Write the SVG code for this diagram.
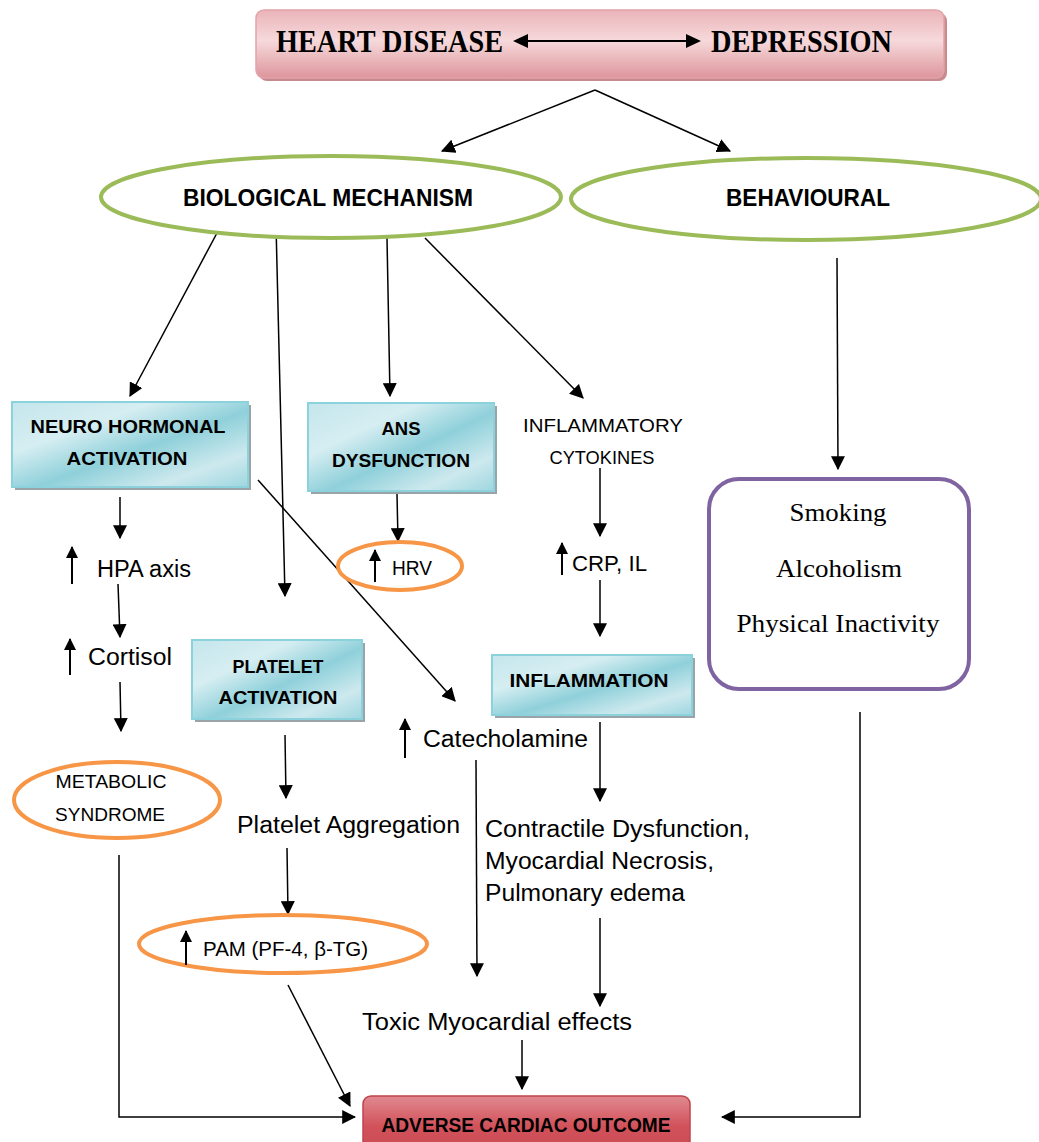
<svg xmlns="http://www.w3.org/2000/svg" width="1039" height="1142" viewBox="0 0 1039 1142">
<defs>
<marker id="ah" viewBox="0 0 12 12" refX="11" refY="6" markerWidth="14" markerHeight="14" markerUnits="userSpaceOnUse" orient="auto">
<path d="M0,0 L12,6 L0,12 z" fill="#000"/>
</marker>
<marker id="ahs" viewBox="0 0 12 12" refX="11" refY="6" markerWidth="12" markerHeight="12" markerUnits="userSpaceOnUse" orient="auto">
<path d="M0,0 L12,6 L0,12 z" fill="#000"/>
</marker>
<linearGradient id="teal" x1="0" y1="0" x2="1" y2="1">
<stop offset="0" stop-color="#c4e6ec"/>
<stop offset="0.3" stop-color="#d6eef2"/>
<stop offset="0.55" stop-color="#8fd0da"/>
<stop offset="0.8" stop-color="#cde9ee"/>
<stop offset="1" stop-color="#9ed6df"/>
</linearGradient>
<linearGradient id="pink" x1="0" y1="0" x2="0" y2="1">
<stop offset="0" stop-color="#eab4b9"/>
<stop offset="0.45" stop-color="#f6d9db"/>
<stop offset="1" stop-color="#dd959b"/>
</linearGradient>
<linearGradient id="red" x1="0" y1="0" x2="0" y2="1">
<stop offset="0" stop-color="#e08a90"/>
<stop offset="0.5" stop-color="#d2525b"/>
<stop offset="1" stop-color="#c94a53"/>
</linearGradient>
<style>
.ln{stroke:#000;stroke-width:1.5;fill:none}
.arr{marker-end:url(#ah)}
.up{stroke:#000;stroke-width:2;fill:none;marker-end:url(#ahs)}
.sans{font-family:"Liberation Sans","DejaVu Sans",sans-serif;fill:#000}
.b{font-weight:bold}
.ser{font-family:"Liberation Serif","DejaVu Serif",serif;fill:#000}
.teal{fill:url(#teal);stroke:#8cd2dc;stroke-width:2}
.shadow{fill:#9aa4a8}
.green{fill:#fff;stroke:#9bbb59;stroke-width:4}
.orange{fill:#fff;stroke:#f79646;stroke-width:4}
</style>
</defs>
<rect width="1039" height="1142" fill="#fff"/>

<g id="connectors">
<line class="ln arr" x1="595" y1="90" x2="442" y2="151"/>
<line class="ln arr" x1="595" y1="90" x2="730" y2="151"/>
<line class="ln arr" x1="217" y1="233" x2="130" y2="396"/>
<line class="ln arr" x1="276" y1="225" x2="285" y2="596"/>
<line class="ln arr" x1="387" y1="238" x2="390" y2="396"/>
<line class="ln arr" x1="425" y1="238" x2="583" y2="398"/>
<line class="ln arr" x1="837" y1="258" x2="838" y2="469"/>
<line class="ln arr" x1="120" y1="497" x2="120" y2="538"/>
<line class="ln arr" x1="118" y1="584" x2="120" y2="637"/>
<line class="ln arr" x1="120" y1="682" x2="121" y2="731"/>
<polyline class="ln arr" points="119,855 119,1117 355,1117"/>
<line class="ln arr" x1="258" y1="480" x2="455" y2="701"/>
<line class="ln arr" x1="397" y1="494" x2="398" y2="541"/>
<line class="ln arr" x1="600" y1="468" x2="600" y2="536"/>
<line class="ln arr" x1="600" y1="580" x2="600" y2="636"/>
<line class="ln arr" x1="600" y1="722" x2="600" y2="801"/>
<line class="ln arr" x1="285" y1="735" x2="286" y2="798"/>
<line class="ln arr" x1="287" y1="848" x2="288" y2="914"/>
<line class="ln arr" x1="288" y1="985" x2="350" y2="1106"/>
<line class="ln arr" x1="476" y1="760" x2="477" y2="976"/>
<line class="ln arr" x1="600" y1="918" x2="600" y2="1006"/>
<line class="ln arr" x1="522" y1="1040" x2="522" y2="1089"/>
<polyline class="ln arr" points="860,712 860,1117 722,1117"/>
</g>

<g id="top">
<rect x="259" y="13" width="688" height="68" rx="8" fill="#c98a8f"/>
<rect x="256" y="10" width="688" height="68" rx="8" fill="url(#pink)" stroke="#e3a3a8" stroke-width="1.5"/>
<text class="ser b" x="276" y="52" font-size="31" textLength="227" lengthAdjust="spacingAndGlyphs">HEART DISEASE</text>
<text class="ser b" x="711" y="52" font-size="31" textLength="181" lengthAdjust="spacingAndGlyphs">DEPRESSION</text>
<line x1="526" y1="41" x2="688" y2="41" stroke="#000" stroke-width="2"/>
<path d="M513,41 L528,34 L528,48 z M701,41 L686,34 L686,48 z" fill="#000"/>
</g>

<g id="biological">
<ellipse class="green" cx="331" cy="197" rx="230" ry="41"/>
<text class="sans b" x="328" y="206" font-size="23" text-anchor="middle" textLength="290" lengthAdjust="spacingAndGlyphs">BIOLOGICAL MECHANISM</text>
</g>
<g id="behavioural">
<ellipse class="green" cx="806" cy="199" rx="235" ry="41"/>
<text class="sans b" x="808" y="206" font-size="23" text-anchor="middle" textLength="164" lengthAdjust="spacingAndGlyphs">BEHAVIOURAL</text>
</g>

<g id="neuro">
<rect class="shadow" x="15" y="405" width="236" height="85"/>
<rect class="teal" x="12" y="402" width="236" height="85"/>
<text class="sans b" x="128" y="433" font-size="19" text-anchor="middle" textLength="195" lengthAdjust="spacingAndGlyphs">NEURO HORMONAL</text>
<text class="sans b" x="127" y="465" font-size="19" text-anchor="middle" textLength="121" lengthAdjust="spacingAndGlyphs">ACTIVATION</text>
</g>

<g id="ans">
<rect class="shadow" x="311" y="406" width="186" height="88"/>
<rect class="teal" x="308" y="403" width="186" height="88"/>
<text class="sans b" x="401" y="435" font-size="19" text-anchor="middle" textLength="39" lengthAdjust="spacingAndGlyphs">ANS</text>
<text class="sans b" x="401" y="467" font-size="19" text-anchor="middle" textLength="138" lengthAdjust="spacingAndGlyphs">DYSFUNCTION</text>
</g>

<g id="cytokines">
<text class="sans" x="603" y="432" font-size="19" text-anchor="middle" textLength="160" lengthAdjust="spacingAndGlyphs">INFLAMMATORY</text>
<text class="sans" x="602" y="464" font-size="19" text-anchor="middle" textLength="105" lengthAdjust="spacingAndGlyphs">CYTOKINES</text>
</g>

<g id="hpa">
<line class="up" x1="72" y1="584" x2="72" y2="547"/>
<text class="sans" x="97" y="577" font-size="23" textLength="94" lengthAdjust="spacingAndGlyphs">HPA axis</text>
</g>

<g id="hrv">
<ellipse class="orange" cx="400" cy="566" rx="62" ry="24"/>
<line class="up" x1="375" y1="582" x2="375" y2="550"/>
<text class="sans" x="392" y="575" font-size="20" textLength="40" lengthAdjust="spacingAndGlyphs">HRV</text>
</g>

<g id="crp">
<line class="up" x1="562" y1="575" x2="562" y2="543"/>
<text class="sans" x="572" y="571" font-size="22" textLength="75" lengthAdjust="spacingAndGlyphs">CRP, IL</text>
</g>

<g id="cortisol">
<line class="up" x1="70" y1="675" x2="70" y2="639"/>
<text class="sans" x="88" y="665" font-size="23" textLength="84" lengthAdjust="spacingAndGlyphs">Cortisol</text>
</g>

<g id="platelet">
<rect class="shadow" x="195" y="643" width="170" height="79"/>
<rect class="teal" x="192" y="640" width="170" height="79"/>
<text class="sans b" x="278" y="673" font-size="19" text-anchor="middle" textLength="91" lengthAdjust="spacingAndGlyphs">PLATELET</text>
<text class="sans b" x="278" y="704" font-size="19" text-anchor="middle" textLength="119" lengthAdjust="spacingAndGlyphs">ACTIVATION</text>
</g>

<g id="inflammation">
<rect class="shadow" x="495" y="658" width="200" height="60"/>
<rect class="teal" x="492" y="655" width="200" height="60"/>
<text class="sans b" x="589" y="687" font-size="19" text-anchor="middle" textLength="159" lengthAdjust="spacingAndGlyphs">INFLAMMATION</text>
</g>

<g id="catecholamine">
<line class="up" x1="405" y1="758" x2="405" y2="719"/>
<text class="sans" x="423" y="747" font-size="23" textLength="165" lengthAdjust="spacingAndGlyphs">Catecholamine</text>
</g>

<g id="metabolic">
<ellipse class="orange" cx="117" cy="800" rx="103" ry="38"/>
<text class="sans" x="111" y="788" font-size="19" text-anchor="middle" textLength="111" lengthAdjust="spacingAndGlyphs">METABOLIC</text>
<text class="sans" x="110" y="821" font-size="19" text-anchor="middle" textLength="110" lengthAdjust="spacingAndGlyphs">SYNDROME</text>
</g>

<g id="aggregation">
<text class="sans" x="237" y="833" font-size="23" textLength="223" lengthAdjust="spacingAndGlyphs">Platelet Aggregation</text>
</g>

<g id="contractile">
<text class="sans" x="485" y="837" font-size="23" textLength="265" lengthAdjust="spacingAndGlyphs">Contractile Dysfunction,</text>
<text class="sans" x="485" y="869" font-size="23" textLength="229" lengthAdjust="spacingAndGlyphs">Myocardial Necrosis,</text>
<text class="sans" x="485" y="901" font-size="23" textLength="200" lengthAdjust="spacingAndGlyphs">Pulmonary edema</text>
</g>

<g id="pam">
<ellipse class="orange" cx="283" cy="944" rx="144" ry="29"/>
<line class="up" x1="186" y1="965" x2="186" y2="931"/>
<text class="sans" x="203" y="956" font-size="20" textLength="165" lengthAdjust="spacingAndGlyphs">PAM (PF-4, β-TG)</text>
</g>

<g id="toxic">
<text class="sans" x="362" y="1030" font-size="23" textLength="270" lengthAdjust="spacingAndGlyphs">Toxic Myocardial effects</text>
</g>

<g id="lifestyle">
<rect x="709" y="479" width="260" height="210" rx="30" fill="#fff" stroke="#8064a2" stroke-width="4"/>
<text class="ser" x="838" y="521" font-size="25" text-anchor="middle" textLength="97" lengthAdjust="spacingAndGlyphs">Smoking</text>
<text class="ser" x="839" y="577" font-size="25" text-anchor="middle" textLength="126" lengthAdjust="spacingAndGlyphs">Alcoholism</text>
<text class="ser" x="838" y="632" font-size="25" text-anchor="middle" textLength="203" lengthAdjust="spacingAndGlyphs">Physical Inactivity</text>
</g>

<g id="adverse">
<rect x="363" y="1096" width="327" height="60" rx="8" fill="url(#red)" stroke="#c0434c" stroke-width="1.5"/>
<text class="sans b" x="526" y="1132" font-size="20" text-anchor="middle" textLength="289" lengthAdjust="spacingAndGlyphs">ADVERSE CARDIAC OUTCOME</text>
</g>
</svg>
